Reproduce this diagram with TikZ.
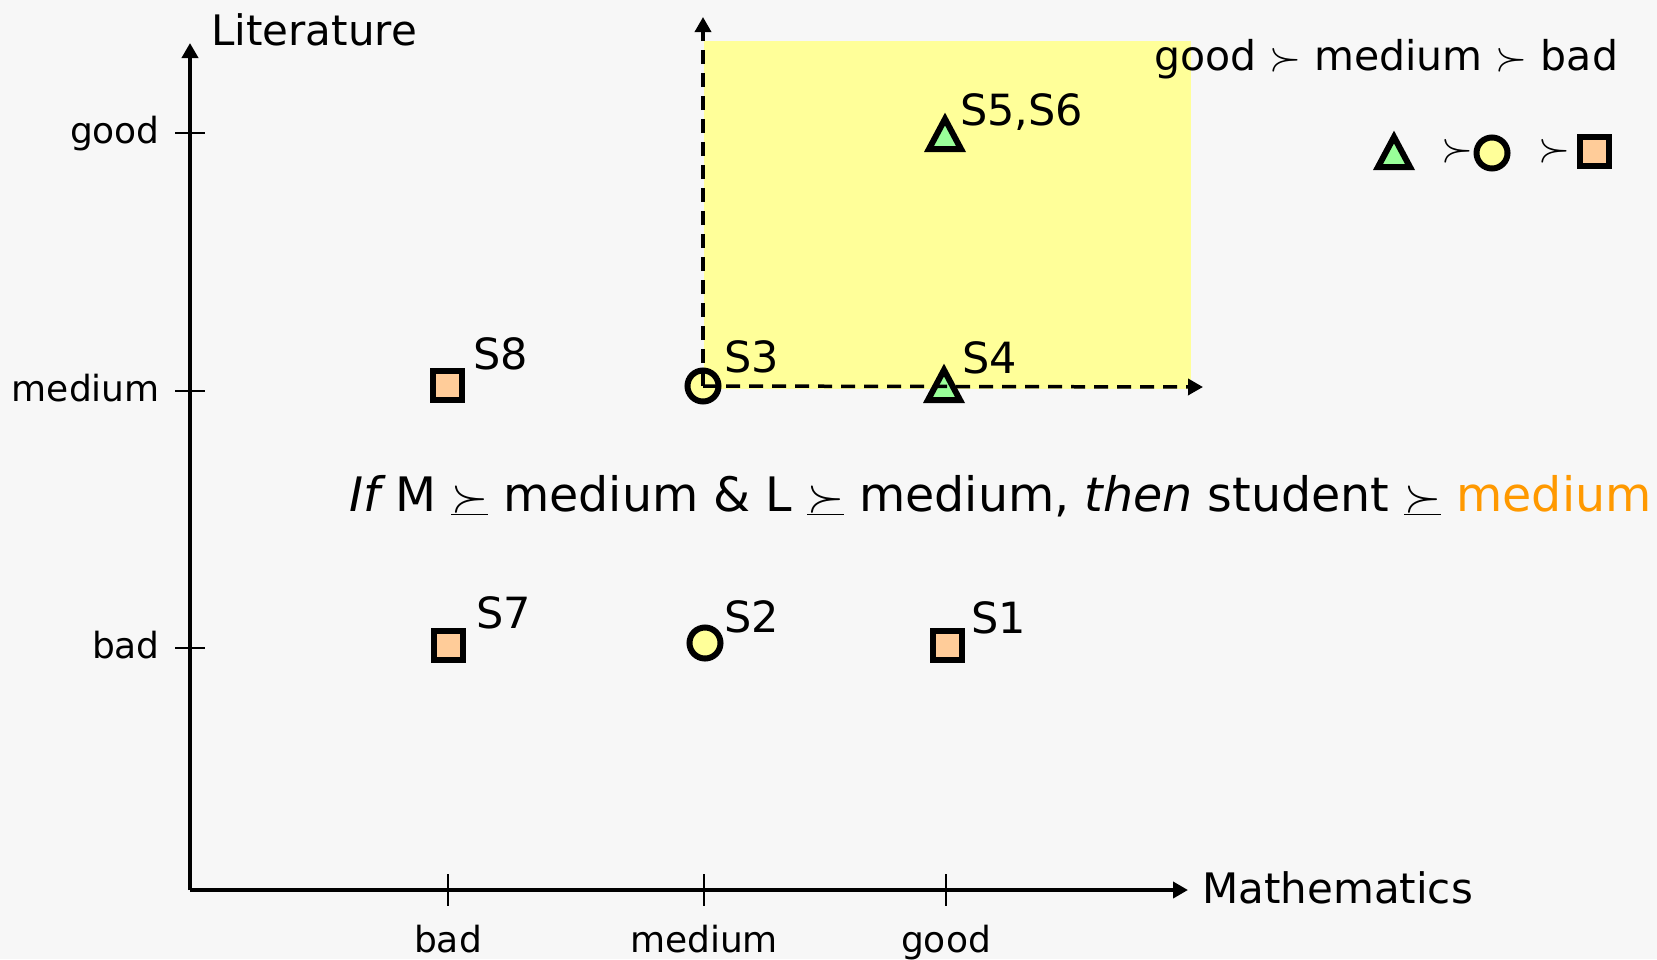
\RequirePackage{fix-cm}
\documentclass[tikz,border=0pt]{standalone}
\usepackage{fontspec}
\setmainfont{DejaVu Sans}
\usetikzlibrary{arrows.meta}
\definecolor{bgc}{HTML}{F7F7F7}
\definecolor{sqc}{HTML}{FFCC99}
\definecolor{cic}{HTML}{FFFF99}
\definecolor{trc}{HTML}{99FF99}
\definecolor{regc}{HTML}{FFFF99}
\definecolor{orc}{HTML}{FF9900}
\newcommand{\sgeq}{$\underline{\succ}$}
\newcommand{\sgt}{$\succ$}
\newcommand{\trimark}[1]{\draw[trist] (#1) ++(-16,15) -- ++(32,0) -- ++(-16,-30) -- cycle;}
\tikzset{
  ax/.style={line width=4pt, -{Triangle[length=15pt,width=16pt]}},
  tk/.style={line width=1.5pt},
  dsh/.style={line width=3.5pt, dash pattern=on 14pt off 9pt, -{Triangle[length=15pt,width=16pt]}},
  sqm/.style={rectangle, draw, line width=6pt, fill=sqc, minimum size=29pt, inner sep=0pt},
  cim/.style={circle, draw, line width=6pt, fill=cic, minimum size=31pt, inner sep=0pt},
  trist/.style={draw, line width=6pt, fill=trc},
  big/.style={font=\fontsize{42}{50}\selectfont, inner sep=0pt},
  lab/.style={font=\fontsize{43}{50}\selectfont, inner sep=0pt},
  leg/.style={font=\fontsize{41}{50}\selectfont, inner sep=0pt},
  rul/.style={font=\fontsize{47.5}{56}\selectfont, inner sep=0pt},
  small/.style={font=\fontsize{36}{42}\selectfont, inner sep=0pt},
}
\begin{document}
\begin{tikzpicture}[x=1pt,y=-1pt]
\fill[bgc] (0,0) rectangle (1657,959);
\useasboundingbox (0,0) rectangle (1657,959);
% region
\fill[regc] (704,41) rectangle (1191,389);
% axes
\coordinate (o) at (190,890);
\coordinate (ytip) at (190,43);
\coordinate (xtip) at (1188,890);
\draw[ax] (o) -- (ytip);
\draw[ax] (o) -- (xtip);
\node[big, anchor=base west] (lit) at (211,45) {Literature};
\node[big, anchor=base west] (math) at (1202,903) {Mathematics};
% x ticks
\foreach \x/\t/\n in {448/bad/xb, 704/medium/xm, 946/good/xg}{
  \draw[tk] (\x,874) -- (\x,906);
  \node[small, anchor=base] (\n) at (\x,952) {\t};
}
% y ticks
\foreach \y/\t/\n in {133/good/yg, 391/medium/ym, 648/bad/yb}{
  \draw[tk] (175,\y) -- (205,\y);
  \node[small, anchor=base east] (\n) at (160,\y+10) {\t};
}
% markers
\node[sqm] (s8) at (447,385) {};
\node[cim] (s3) at (703,386) {};
\coordinate (s4) at (944,385);
\trimark{s4}
\coordinate (s56) at (945,134);
\trimark{s56}
\node[sqm] (s7) at (448,645) {};
\node[cim] (s2) at (705,643) {};
\node[sqm] (s1) at (947,645) {};
% dashed arrows
\coordinate (vtip) at (703,17);
\coordinate (htip) at (1203,387);
\draw[dsh] (s3.center) -- (vtip);
\draw[dsh] (s3.center) -- (htip);
% labels
\node[lab, anchor=base west] (l8) at (473,369) {S8};
\node[lab, anchor=base west] (l3) at (724,372) {S3};
\node[lab, anchor=base west] (l4) at (962,373) {S4};
\node[lab, anchor=base west] (l56) at (960,125) {S5,S6};
\node[lab, anchor=base west] (l7) at (476,628) {S7};
\node[lab, anchor=base west] (l2) at (724,632) {S2};
\node[lab, anchor=base west] (l1) at (971,633) {S1};
% legend
\node[leg, anchor=base west] (ord) at (1154,70) {good \sgt{} medium \sgt{} bad};
\coordinate (lt) at (1394,152);
\trimark{lt}
\node[leg] (lg1) at (1457,151) {\sgt};
\node[cim] (lc) at (1492,153) {};
\node[leg] (lg2) at (1554,151) {\sgt};
\node[sqm] (ls) at (1594,151) {};
% rule
\node[rul, anchor=base west] (rule) at (349,511) {\itshape If\upshape{} M \sgeq{} medium \& L \sgeq{} medium, \itshape then\upshape{} student \sgeq{} \textcolor{orc}{medium}};
\end{tikzpicture}
\end{document}
